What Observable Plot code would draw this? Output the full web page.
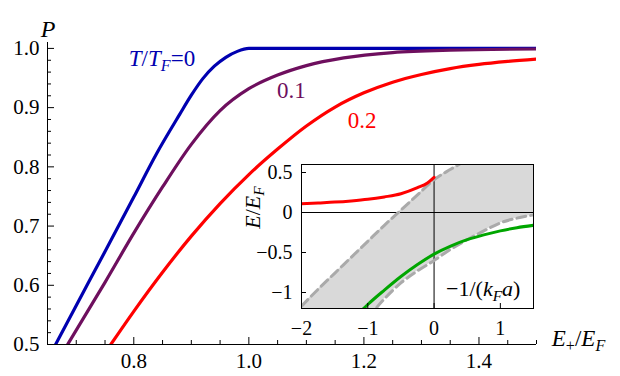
<!DOCTYPE html>
<html><head><meta charset="utf-8">
<script src="https://cdn.jsdelivr.net/npm/d3@7"></script>
<script src="https://cdn.jsdelivr.net/npm/@observablehq/plot@0.6"></script>
<style>
body{margin:0;background:#fff;}
#wrap{position:relative;width:620px;height:376px;overflow:hidden;}
#wrap svg{position:absolute;}
</style></head><body><div id="wrap"></div>
<script>
// ---------- main chart data: P vs E+/EF ----------
const t0E = [0.664, 0.70, 0.75, 0.80, 0.84, 0.88, 0.90, 0.92, 0.94, 0.96, 0.98, 1.0, 1.5];
const t0P = [0.50, 0.566, 0.657, 0.749, 0.823, 0.889, 0.921, 0.949, 0.970, 0.985, 0.995, 1.0, 1.0];
const t1E = [0.685, 0.75, 0.80, 0.85, 0.90, 0.95, 1.00, 1.05, 1.10, 1.165, 1.25, 1.35, 1.5];
const t1P = [0.50, 0.605, 0.688, 0.766, 0.838, 0.895, 0.932, 0.955, 0.971, 0.984, 0.993, 0.997, 0.999];
const t2E = [0.76, 0.80, 0.85, 0.90, 0.95, 1.00, 1.05, 1.10, 1.15, 1.20, 1.25, 1.30, 1.35, 1.40, 1.45, 1.50];
const t2P = [0.50, 0.556, 0.622, 0.683, 0.738, 0.787, 0.830, 0.869, 0.901, 0.925, 0.943, 0.956, 0.966, 0.973, 0.978, 0.982];

const curveColors = ["#0000b0", "#6e0f5e", "#ff0000"];
const curveLabels = ["T/T_F=0", "0.1", "0.2"];
const labelE = [0.849, 1.074, 1.197];
const labelP = [0.983, 0.9286, 0.878];

const xMajor = [0.8, 1.0, 1.2, 1.4];
const xMinor = [0.7, 0.75, 0.85, 0.9, 0.95, 1.05, 1.1, 1.15, 1.25, 1.3, 1.35, 1.45, 1.5];
const yMajor = [0.5, 0.6, 0.7, 0.8, 0.9, 1.0];
const yMinor = [0.52,0.54,0.56,0.58,0.62,0.64,0.66,0.68,0.72,0.74,0.76,0.78,0.82,0.84,0.86,0.88,0.92,0.94,0.96,0.98];
const xDomain = [0.65, 1.5];
const yDomain = [0.5, 1.01];

// ---------- inset data: E/EF vs -1/(kF a) ----------
const gridK = [-2, -1.75, -1.5, -1.25, -1, -0.75, -0.5, -0.25, 0, 0.25, 0.5, 0.75, 1, 1.25, 1.5];
const upperE = [-1.17, -0.96, -0.76, -0.56, -0.36, -0.16, 0.03, 0.22, 0.41, 0.54, 0.66, 0.77, 0.87, 0.96, 1.05];
const lowerE = [-2.6, -2.2, -1.9, -1.6, -1.32, -1.08, -0.88, -0.73, -0.60, -0.46, -0.34, -0.23, -0.13, -0.07, -0.03];
const lowerFrom = 4; // index where the lower dashed curve enters the frame region
const redK = [-2, -1.75, -1.5, -1.25, -1, -0.75, -0.5, -0.25, -0.1, 0];
const redE = [0.11, 0.12, 0.13, 0.145, 0.165, 0.195, 0.235, 0.31, 0.37, 0.44];
const greenK = [-1.1, -1, -0.75, -0.5, -0.25, 0, 0.25, 0.5, 0.75, 1, 1.25, 1.5];
const greenE = [-1.23, -1.15, -0.97, -0.80, -0.65, -0.52, -0.42, -0.34, -0.28, -0.23, -0.19, -0.16];
const insetXTicks = [-2, -1, 0, 1];
const insetYTicks = [-1, -0.5, 0, 0.5];
const insetXDomain = [-2, 1.5];
const insetYDomain = [-1.2, 0.6];

const fontFamily = "Liberation Serif";
const rows = (xs, ys) => xs.map((x, i) => ({x, y: ys[i]}));
const signed = d => (d < 0 ? "\u2212" : "") + Math.abs(d);

// ---------- main plot ----------
const W = 620, H = 376, mL = 47, mR = 84, mT = 42, mB = 32;
const pW = W - mL - mR, pH = H - mT - mB;
const series = [[t0E, t0P], [t1E, t1P], [t2E, t2P]];

const main = Plot.plot({
  width: W, height: H, marginLeft: mL, marginRight: mR, marginTop: mT, marginBottom: mB,
  x: {domain: xDomain}, y: {domain: yDomain},
  style: {fontFamily, fontSize: "21px", background: "transparent", color: "black"},
  marks: [
    Plot.ruleX([xDomain[0]], {x: d => d, stroke: "black"}),
    Plot.ruleY([yDomain[0]], {y: d => d, stroke: "black"}),
    Plot.ruleX(xMajor, {x: d => d, insetTop: pH - 7, stroke: "black"}),
    Plot.ruleX(xMinor, {x: d => d, insetTop: pH - 4, stroke: "black"}),
    Plot.ruleY(yMajor, {y: d => d, insetRight: pW - 7, stroke: "black"}),
    Plot.ruleY(yMinor, {y: d => d, insetRight: pW - 4, stroke: "black"}),
    Plot.axisX({ticks: xMajor, tickSize: 0, tickPadding: 9, tickFormat: d => d.toFixed(1), label: null, fontSize: 21, fontFamily}),
    Plot.axisY({ticks: yMajor, tickSize: 0, tickPadding: 8, tickFormat: d => d.toFixed(1), label: null, fontSize: 21, fontFamily}),
    ...series.map(([xs, ys], i) => Plot.line(rows(xs, ys), {x: "x", y: "y", stroke: curveColors[i], strokeWidth: 3.2, curve: "monotone-x", clip: true})),
    Plot.text(curveLabels.map((t, i) => ({t, x: labelE[i], y: labelP[i], c: curveColors[i]})),
      {x: "x", y: "y", text: "t", fill: d => d.c, fontSize: 23, fontFamily, textAnchor: "middle", lineAnchor: "middle"}),
    Plot.text(["P"], {text: d => d, frameAnchor: "top-left", dx: 0.5, dy: -23, fontSize: 24, fontFamily, fontStyle: "italic", textAnchor: "middle"}),
    Plot.text(["E_+/E_F"], {text: d => d, frameAnchor: "bottom-right", dx: 42, dy: 1, fontSize: 23, fontFamily, textAnchor: "middle"})
  ]
});
main.style.left = "0px"; main.style.top = "0px";

// ---------- inset ----------
const iW = 320, iH = 190, iL = 81, iR = 7, iT = 14, iB = 32;
const ipW = iW - iL - iR, ipH = iH - iT - iB;
const band = gridK.map((k, i) => ({k, lo: lowerE[i], hi: upperE[i]}));

const inset = Plot.plot({
  width: iW, height: iH, marginLeft: iL, marginRight: iR, marginTop: iT, marginBottom: iB,
  x: {domain: insetXDomain}, y: {domain: insetYDomain},
  style: {fontFamily, fontSize: "20px", background: "transparent", color: "black"},
  marks: [
    Plot.frame({fill: "white", stroke: "none"}),
    Plot.areaY(band, {x: "k", y1: "lo", y2: "hi", fill: "#d9d9d9", curve: "monotone-x", clip: true}),
    Plot.ruleX([0], {x: d => d, stroke: "black"}),
    Plot.ruleY([0], {y: d => d, stroke: "black"}),
    Plot.line(rows(gridK, upperE), {x: "x", y: "y", stroke: "#aaaaaa", strokeWidth: 3, strokeDasharray: "9,5", curve: "monotone-x", clip: true}),
    Plot.line(rows(gridK.slice(lowerFrom), lowerE.slice(lowerFrom)), {x: "x", y: "y", stroke: "#aaaaaa", strokeWidth: 3, strokeDasharray: "9,5", curve: "monotone-x", clip: true}),
    Plot.line(rows(redK, redE), {x: "x", y: "y", stroke: "#ff0000", strokeWidth: 3, curve: "monotone-x", clip: true}),
    Plot.line(rows(greenK, greenE), {x: "x", y: "y", stroke: "#00a600", strokeWidth: 3, curve: "monotone-x", clip: true}),
    Plot.ruleX(insetXTicks, {x: d => d, insetTop: ipH - 5, stroke: "black"}),
    Plot.ruleY(insetYTicks, {y: d => d, insetRight: ipW - 5, stroke: "black"}),
    Plot.frame({stroke: "black"}),
    Plot.axisX({ticks: insetXTicks, tickSize: 0, tickPadding: 12, tickFormat: signed, label: null, fontSize: 20, fontFamily}),
    Plot.axisY({ticks: insetYTicks, tickSize: 0, tickPadding: 9, tickFormat: signed, label: null, fontSize: 20, fontFamily}),
    Plot.text(["E/E_F"], {text: d => d, frameAnchor: "left", rotate: -90, dx: -49, dy: -29, fontSize: 22, fontFamily, textAnchor: "middle"}),
    Plot.text([{t: "\u22121/(k_Fa)", x: 0.741, y: -0.954}], {x: "x", y: "y", text: "t", fontSize: 22, fontFamily, textAnchor: "middle", lineAnchor: "middle"})
  ]
});
inset.style.left = "220px"; inset.style.top = "150px";

const wrap = document.getElementById("wrap");
wrap.appendChild(main);
wrap.appendChild(inset);

// rich text: letters italic, "_x" as subscript
function richify(svg) {
  svg.querySelectorAll("text").forEach(t => {
    const s = t.textContent;
    if (!s.includes("_")) return;
    const parts = [];
    for (let i = 0; i < s.length; i++) {
      let c = s[i], sub = false;
      if (c === "_") { sub = true; c = s[++i]; }
      const it = /[A-Za-z]/.test(c);
      const last = parts[parts.length - 1];
      if (last && last.sub === sub && last.it === it) last.c += c;
      else parts.push({c, sub, it});
    }
    while (t.firstChild) t.removeChild(t.firstChild);
    let prevSub = false;
    for (const p of parts) {
      const ts = document.createElementNS("http://www.w3.org/2000/svg", "tspan");
      ts.textContent = p.c;
      if (p.it) ts.setAttribute("font-style", "italic");
      if (p.sub) {
        ts.setAttribute("font-size", "70%");
        if (!prevSub) ts.setAttribute("dy", "0.32em");
      } else if (prevSub) {
        ts.setAttribute("dy", "-0.224em");
      }
      prevSub = p.sub;
      t.appendChild(ts);
    }
  });
}
richify(main);
richify(inset);
</script></body></html>
